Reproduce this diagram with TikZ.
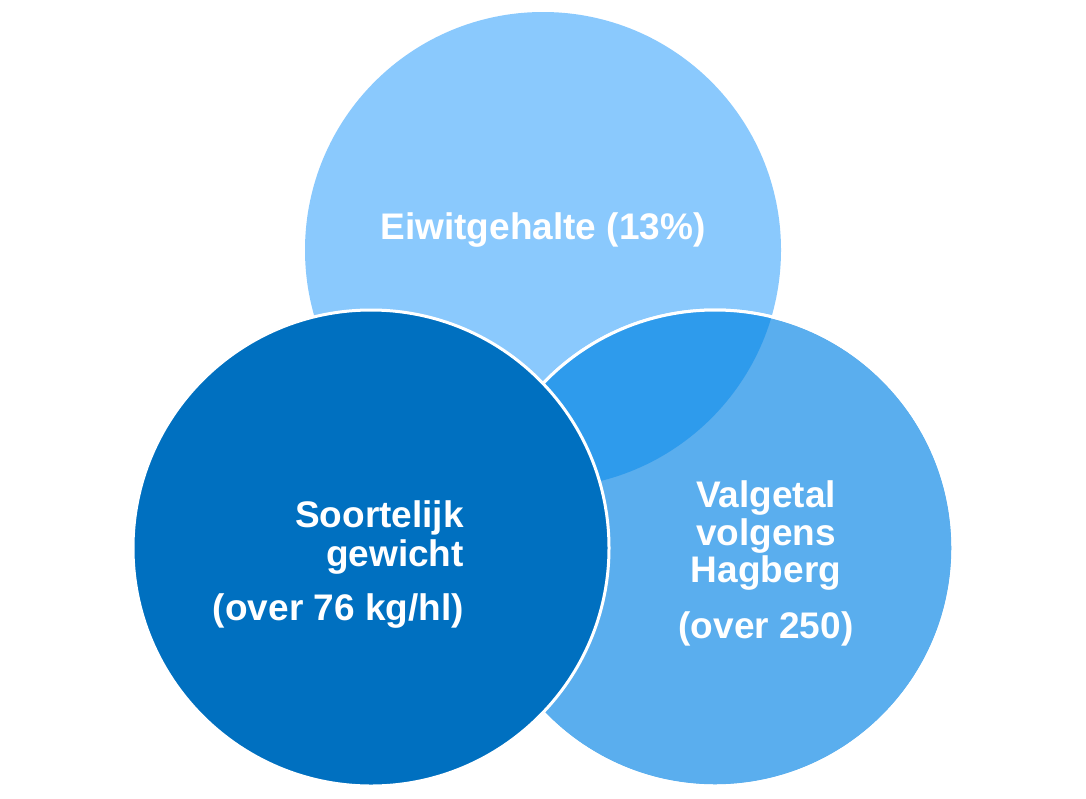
\documentclass[tikz,border=0pt]{standalone}
\usepackage{fontspec}
\setmainfont{Liberation Sans}
\usepackage{tikz}
\usetikzlibrary{positioning}

\definecolor{eiwitblue}{HTML}{8AC9FD}
\definecolor{valblue}{HTML}{5AAEEE}
\definecolor{overlapblue}{HTML}{2E9BEC}
\definecolor{soortblue}{HTML}{0070C0}

\begin{document}
\begin{tikzpicture}[
x=1pt, y=-1pt,
bubble/.style={circle, minimum size=476pt, inner sep=0pt},
rim/.style={draw=white, line width=3pt},
label/.style={text=white, font=\fontsize{37}{37.5}\selectfont\bfseries, inner sep=0pt}
]
\useasboundingbox (0,0) rectangle (1086,798);

\node[bubble, fill=eiwitblue] (eiwit) at (543,250) {};
\node[bubble, fill=valblue, rim] (valgetal) at (715,548) {};
\begin{scope}
\clip (valgetal.center) circle[radius=238pt];
\fill[overlapblue] (eiwit.center) circle[radius=238pt];
\end{scope}
\draw[rim] (valgetal.center) circle[radius=238pt];
\node[bubble, fill=soortblue, rim] (soort) at (371,548) {};

% base anchor sits on the last line
\node[label, anchor=base] (teiwit) at (543,239) {Eiwitgehalte (13\%)};
\node[label, anchor=base east, align=right] (tsoort) at (464,620)
  {Soortelijk\\[1.5pt]gewicht\\[16.5pt](over 76 kg/hl)};
\node[label, anchor=base, align=center] (tval) at (766,638)
  {Valgetal\\volgens\\Hagberg\\[18pt](over 250)};
\end{tikzpicture}
\end{document}
